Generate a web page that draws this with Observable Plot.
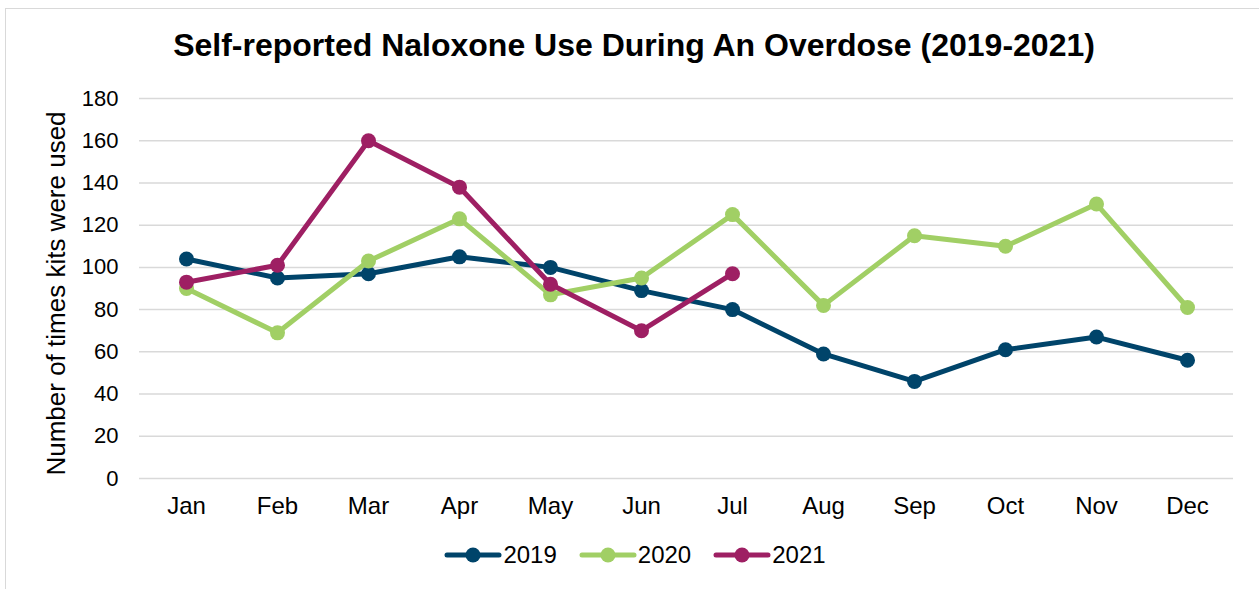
<!DOCTYPE html>
<html>
<head>
<meta charset="utf-8">
<script src="https://cdn.jsdelivr.net/npm/d3@7"></script>
<script src="https://cdn.jsdelivr.net/npm/@observablehq/plot@0.6"></script>
<style>
  html, body { margin: 0; padding: 0; background: #fff; }
  body { width: 1259px; height: 589px; overflow: hidden; position: relative; font-family: "Liberation Sans", Arial, sans-serif; }
  #frame { position: absolute; left: 5px; top: 8px; width: 1280px; height: 600px; border: 1.5px solid #d9d9d9; box-sizing: border-box; }
  #title { position: absolute; left: 0; width: 1268px; top: 27px; text-align: center; font-weight: bold; font-size: 32px; color: #000; }
  #chart { position: absolute; left: 0; top: 80px; }
  #legend { position: absolute; left: 0; width: 1270px; top: 541px; display: flex; justify-content: center; gap: 22px; font-size: 24px; color: #000; }
  .item { display: flex; align-items: center; gap: 1px; }
</style>
</head>
<body>
<div id="frame"></div>
<div id="title">Self-reported Naloxone Use During An Overdose (2019-2021)</div>
<div id="chart"></div>
<div id="legend"></div>
<script>
const months = ["Jan", "Feb", "Mar", "Apr", "May", "Jun", "Jul", "Aug", "Sep", "Oct", "Nov", "Dec"];
const years = ["2019", "2020", "2021"];
const colors = ["#00446a", "#a1cf65", "#9e1f63"];
const values2019 = [104, 95, 97, 105, 100, 89, 80, 59, 46, 61, 67, 56];
const values2020 = [90, 69, 103, 123, 87, 95, 125, 82, 115, 110, 130, 81];
const values2021 = [93, 101, 160, 138, 92, 70, 97];
const yTicks = [0, 20, 40, 60, 80, 100, 120, 140, 160, 180];

const series = [values2019, values2020, values2021];
const rows = series.flatMap((vals, i) =>
  vals.map((v, j) => ({ year: years[i], month: months[j], value: v }))
);

const chart = Plot.plot({
  width: 1259,
  height: 450,
  marginLeft: 139,
  marginRight: 26,
  marginTop: 18,
  marginBottom: 52,
  style: { fontFamily: "Liberation Sans, Arial, sans-serif", color: "#000", background: "transparent" },
  x: { type: "point", domain: months, padding: 0.5, label: null },
  y: { domain: [0, 180], ticks: yTicks, label: null },
  color: { domain: years, range: colors },
  marks: [
    Plot.gridY(yTicks, { stroke: "#d9d9d9", strokeOpacity: 1, strokeWidth: 1.5 }),
    Plot.axisY(yTicks, { tickSize: 0, tickPadding: 21, fontSize: 22, label: null }),
    Plot.axisX({ tickSize: 0, tickPadding: 18, fontSize: 24, label: null }),
    Plot.text(["Number of times kits were used"], {
      frameAnchor: "left", textAnchor: "middle", rotate: -90, dx: -83, dy: 5, fontSize: 26, fill: "#000"
    }),
    Plot.line(rows, { x: "month", y: "value", z: "year", stroke: "year", strokeWidth: 5, strokeLinejoin: "round", strokeLinecap: "round" }),
    Plot.dot(rows, { x: "month", y: "value", fill: "year", r: 7.5 })
  ]
});
document.getElementById("chart").appendChild(chart);

// Legend: line-with-marker swatch followed by the year
const legend = document.getElementById("legend");
years.forEach((y, i) => {
  const item = document.createElement("div");
  item.className = "item";
  item.innerHTML =
    `<svg width="58" height="20"><line x1="3" y1="10" x2="55" y2="10" stroke="${colors[i]}" stroke-width="5" stroke-linecap="round"/>` +
    `<circle cx="29" cy="10" r="7.5" fill="${colors[i]}"/></svg><span>${y}</span>`;
  legend.appendChild(item);
});
</script>
</body>
</html>
